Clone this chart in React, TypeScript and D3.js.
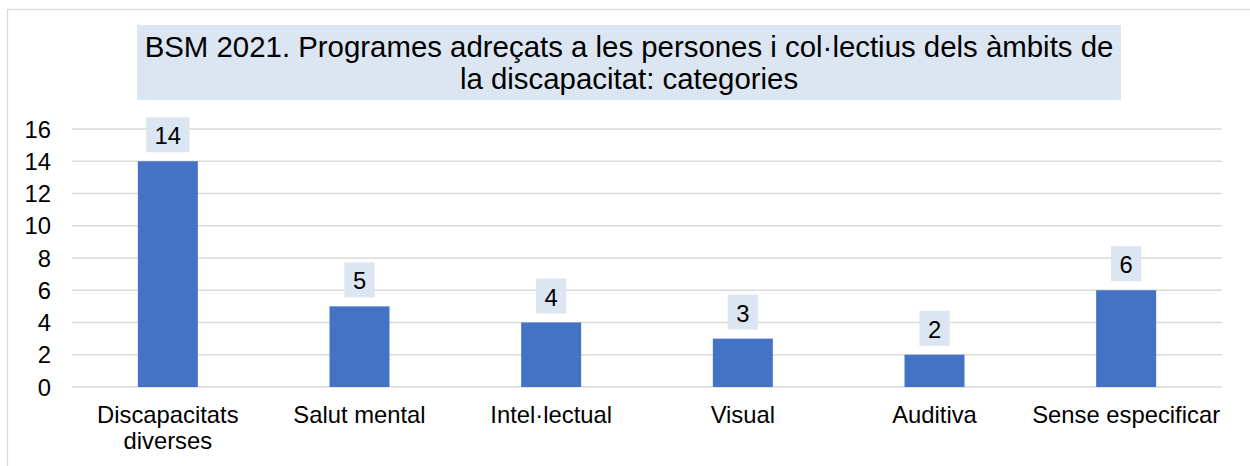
import React, { useEffect, useRef } from "react";
import * as d3 from "d3";

const categories = [
  "Discapacitats diverses",
  "Salut mental",
  "Intel·lectual",
  "Visual",
  "Auditiva",
  "Sense especificar",
];
const values = [14, 5, 4, 3, 2, 6];
const yTicks = [0, 2, 4, 6, 8, 10, 12, 14, 16];
const titleLines = [
  "BSM 2021. Programes adreçats a les persones i col·lectius dels àmbits de",
  "la discapacitat: categories",
];

const FONT = "'Liberation Sans', Arial, Helvetica, sans-serif";

const App: React.FC = () => {
  const svgRef = useRef<SVGSVGElement | null>(null);

  useEffect(() => {
    const width = 1250;
    const height = 466;
    const svg = d3.select(svgRef.current);
    svg.selectAll("*").remove();
    svg.attr("width", width).attr("height", height);

    // outer chart border (runs off the right/bottom edge)
    svg.append("rect")
      .attr("x", 7.5)
      .attr("y", 9.5)
      .attr("width", 1400)
      .attr("height", 600)
      .attr("fill", "#fff")
      .attr("stroke", "#d9d9d9")
      .attr("stroke-width", 1.3);

    const x = d3.scaleBand<string>()
      .domain(categories)
      .range([72, 1222])
      .padding(0);
    const y = d3.scaleLinear().domain([0, 16]).range([387, 129]);
    const barW = x.bandwidth() * 0.313;

    // gridlines
    svg.append("g")
      .selectAll("line")
      .data(yTicks)
      .join("line")
      .attr("x1", 72)
      .attr("x2", 1222)
      .attr("y1", d => y(d))
      .attr("y2", d => y(d))
      .attr("stroke", "#d9d9d9")
      .attr("stroke-width", 1.5);

    // y tick labels
    svg.append("g")
      .selectAll("text")
      .data(yTicks)
      .join("text")
      .attr("x", 51)
      .attr("y", d => y(d))
      .attr("dy", "0.36em")
      .attr("text-anchor", "end")
      .style("font-family", FONT)
      .style("font-size", "23.8px")
      .attr("fill", "#000")
      .text(d => d);

    // bars
    svg.append("g")
      .selectAll("rect")
      .data(values)
      .join("rect")
      .attr("x", (d, i) => x(categories[i])! + x.bandwidth() / 2 - barW / 2)
      .attr("y", d => y(d))
      .attr("width", barW)
      .attr("height", d => y(0) - y(d))
      .attr("fill", "#4472c4");

    // data labels with boxes
    const lab = svg.append("g");
    values.forEach((v, i) => {
      const cx = x(categories[i])! + x.bandwidth() / 2;
      const g = lab.append("g");
      const t = g.append("text")
        .attr("x", cx)
        .attr("y", y(v) - 17)
        .attr("text-anchor", "middle")
        .style("font-family", FONT)
        .style("font-size", "23.8px")
        .attr("fill", "#000")
        .text(v);
      const w = (t.node() as SVGTextElement).getComputedTextLength();
      g.insert("rect", "text")
        .attr("x", cx - w / 2 - 8.5)
        .attr("y", y(v) - 44)
        .attr("width", w + 17)
        .attr("height", 35)
        .attr("fill", "#dce6f2");
    });

    // category labels, wrapped to band width
    categories.forEach(c => {
      const cx = x(c)! + x.bandwidth() / 2;
      const t = svg.append("text")
        .attr("text-anchor", "middle")
        .style("font-family", FONT)
        .style("font-size", "23.8px")
        .attr("fill", "#000");
      const words = c.split(" ");
      let line: string[] = [];
      let lineNo = 0;
      let ts = t.append("tspan").attr("x", cx).attr("y", 423);
      words.forEach(wd => {
        line.push(wd);
        ts.text(line.join(" "));
        if ((ts.node() as SVGTSpanElement).getComputedTextLength() > x.bandwidth() && line.length > 1) {
          line.pop();
          ts.text(line.join(" "));
          line = [wd];
          lineNo++;
          ts = t.append("tspan").attr("x", cx).attr("y", 423 + lineNo * 25.5).text(wd);
        }
      });
    });

    // title box
    svg.append("rect")
      .attr("x", 137)
      .attr("y", 25)
      .attr("width", 984)
      .attr("height", 75)
      .attr("fill", "#dce6f2");

    svg.append("text")
      .attr("text-anchor", "middle")
      .style("font-family", FONT)
      .style("font-size", "29.4px")
      .attr("fill", "#000")
      .selectAll("tspan")
      .data(titleLines)
      .join("tspan")
      .attr("x", 629)
      .attr("y", (d, i) => 57 + i * 32)
      .text(d => d);
  }, []);

  return (
    <svg ref={svgRef} style={{ position: "absolute", left: 0, top: 0 }}></svg>
  );
};

export default App;
